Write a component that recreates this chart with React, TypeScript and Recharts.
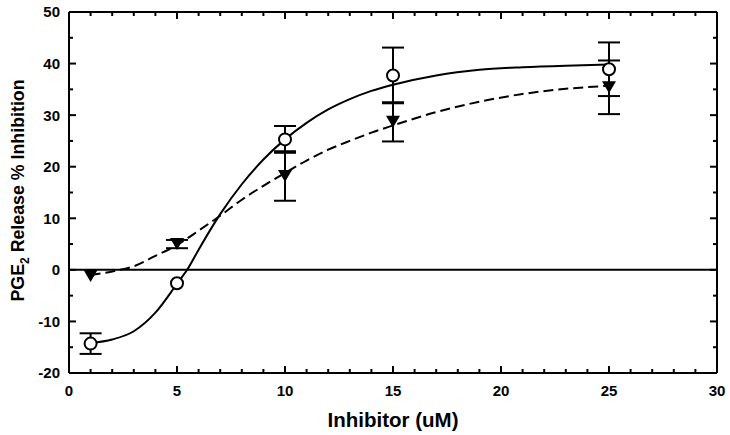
import React from 'react';
import {
    ComposedChart,
    ErrorBar,
    Line,
    ReferenceLine,
    Scatter,
    XAxis,
    YAxis
} from 'recharts';

// tick values
const xTicks = [0, 1, 2, 3, 4, 5, 6, 7, 8, 9, 10, 11, 12, 13, 14, 15, 16, 17, 18, 19, 20, 21, 22, 23, 24, 25, 26, 27, 28, 29, 30];
const yTicks = [-20, -15, -10, -5, 0, 5, 10, 15, 20, 25, 30, 35, 40, 45, 50];

// measured points (inhibitor concentration, uM); 0 = error hidden behind the marker
const doseX = [1, 5, 10, 15, 25];
const circleY = [-14.3, -2.6, 25.3, 37.7, 38.9];
const circleErr = [2.0, 0, 2.6, 5.4, 5.2];
const triangleY = [-1.2, 5.0, 18.2, 28.7, 35.4];
const triangleErr = [0, 0.8, 4.8, 3.8, 5.2];

// fitted curves
const solidFitX = [1, 2, 3, 4, 5, 5.5, 6, 7, 8, 9, 10, 11, 12, 13, 14, 15, 17, 19, 21, 23, 25];
const solidFitY = [-14.2, -13.5, -11.9, -8.3, -2.7, 0.2, 3.9, 10.8, 16.6, 21.4, 25.3, 28.5, 31.1, 33.1, 34.7, 35.9, 37.7, 38.8, 39.3, 39.6, 39.8];
const dashedFitX = [1, 2, 3, 4, 5, 6, 7, 8, 9, 10, 11, 12, 13, 14, 15, 17, 19, 21, 23, 25];
const dashedFitY = [-1.0, -0.3, 0.7, 2.7, 4.8, 7.6, 10.5, 13.6, 16.3, 18.8, 21.2, 23.3, 25.0, 26.6, 28.0, 30.6, 32.6, 34.1, 35.1, 35.7];

const circles = doseX.map((x, i) => ({ x, y: circleY[i], err: circleErr[i] }));
const triangles = doseX.map((x, i) => ({ x, y: triangleY[i], err: triangleErr[i] }));
const solidFit = solidFitX.map((x, i) => ({ x, y: solidFitY[i] }));
const dashedFit = dashedFitX.map((x, i) => ({ x, y: dashedFitY[i] }));

const FONT = '"Liberation Sans", Arial, sans-serif';

const OpenCircle = (props: any) => (
    <circle cx={props.cx} cy={props.cy} r={6} fill="#fff" stroke="#000" strokeWidth={2} />
);

const DownTriangle = (props: any) => {
    const { cx, cy } = props;
    return <path d={`M${cx - 7},${cy - 6}L${cx + 7},${cy - 6}L${cx},${cy + 6}Z`} fill="#000" />;
};

const BottomTick = ({ x, y, payload }: any) => {
    const major = payload.value % 5 === 0;
    return (
        <g>
            <line x1={x} x2={x} y1={y} y2={y - (major ? 7 : 4)} stroke="#000" strokeWidth={2} />
            {major && (
                <text x={x} y={y + 22.5} textAnchor="middle" fontFamily={FONT} fontWeight="bold" fontSize={15} fill="#000">
                    {payload.value}
                </text>
            )}
        </g>
    );
};

const TopTick = ({ x, y, payload }: any) => {
    const major = payload.value % 5 === 0;
    return <line x1={x} x2={x} y1={y} y2={y + (major ? 7 : 4)} stroke="#000" strokeWidth={2} />;
};

const LeftTick = ({ x, y, payload }: any) => {
    const major = payload.value % 10 === 0;
    return (
        <g>
            <line x1={x} x2={x + (major ? 7 : 4)} y1={y} y2={y} stroke="#000" strokeWidth={2} />
            {major && (
                <text x={x - 9} y={y} dy="0.36em" textAnchor="end" fontFamily={FONT} fontWeight="bold" fontSize={15} fill="#000">
                    {payload.value}
                </text>
            )}
        </g>
    );
};

const RightTick = ({ x, y, payload }: any) => {
    const major = payload.value % 10 === 0;
    return <line x1={x} x2={x - (major ? 7 : 4)} y1={y} y2={y} stroke="#000" strokeWidth={2} />;
};

const XTitle = (props: any) => {
    const { x, y, width } = props.viewBox;
    return (
        <text x={x + width / 2} y={y + 54} textAnchor="middle" fontFamily={FONT} fontWeight="bold" fontSize={20.5} fill="#000">
            Inhibitor (uM)
        </text>
    );
};

const YTitle = (props: any) => {
    const { y, height } = props.viewBox;
    const cx = 17;
    const cy = y + height / 2 - 2;
    return (
        <text
            x={cx}
            y={cy + 7}
            transform={`rotate(-90, ${cx}, ${cy})`}
            textAnchor="middle"
            fontFamily={FONT}
            fontWeight="bold"
            fontSize={17.8}
            fill="#000"
        >
            PGE
            <tspan fontSize={12} dy={4.5}>2</tspan>
            <tspan dy={-4.5}> Release % Inhibition</tspan>
        </text>
    );
};

export default function App() {
    return (
        <div style={{ position: 'absolute', left: 0, top: 0, background: '#fff' }}>
            <ComposedChart width={730} height={435} margin={{ top: 11, right: 12, bottom: 0, left: 0 }}>
                <XAxis
                    dataKey="x"
                    type="number"
                    domain={[0, 30]}
                    allowDataOverflow
                    ticks={xTicks}
                    interval={0}
                    height={62}
                    tickSize={0}
                    tickMargin={0}
                    tickLine={false}
                    tick={<BottomTick />}
                    axisLine={{ stroke: '#000', strokeWidth: 2 }}
                    label={XTitle}
                />
                <XAxis
                    xAxisId="top"
                    dataKey="x"
                    orientation="top"
                    type="number"
                    domain={[0, 30]}
                    allowDataOverflow
                    ticks={xTicks}
                    interval={0}
                    height={1}
                    tickSize={0}
                    tickMargin={0}
                    tickLine={false}
                    tick={<TopTick />}
                    axisLine={{ stroke: '#000', strokeWidth: 2 }}
                />
                <YAxis
                    dataKey="y"
                    type="number"
                    domain={[-20, 50]}
                    allowDataOverflow
                    ticks={yTicks}
                    interval={0}
                    width={69}
                    tickSize={0}
                    tickMargin={0}
                    tickLine={false}
                    tick={<LeftTick />}
                    axisLine={{ stroke: '#000', strokeWidth: 2 }}
                    label={YTitle}
                />
                <YAxis
                    yAxisId="right"
                    dataKey="y"
                    orientation="right"
                    type="number"
                    domain={[-20, 50]}
                    allowDataOverflow
                    ticks={yTicks}
                    interval={0}
                    width={1}
                    tickSize={0}
                    tickMargin={0}
                    tickLine={false}
                    tick={<RightTick />}
                    axisLine={{ stroke: '#000', strokeWidth: 2 }}
                />
                <ReferenceLine y={0} stroke="#000" strokeWidth={2} />
                <Line
                    data={solidFit}
                    dataKey="y"
                    type="monotone"
                    stroke="#000"
                    strokeWidth={2}
                    dot={false}
                    activeDot={false}
                    isAnimationActive={false}
                />
                {/* triangle series is bound to the top/right axes (same domains) so those axes get drawn */}
                <Line
                    data={dashedFit}
                    dataKey="y"
                    xAxisId="top"
                    yAxisId="right"
                    type="monotone"
                    stroke="#000"
                    strokeWidth={2}
                    strokeDasharray="10 5"
                    dot={false}
                    activeDot={false}
                    isAnimationActive={false}
                />
                <Scatter data={circles} dataKey="y" shape={OpenCircle} isAnimationActive={false}>
                    <ErrorBar dataKey="err" direction="y" width={11} stroke="#000" strokeWidth={2} />
                </Scatter>
                <Scatter
                    data={triangles}
                    dataKey="y"
                    xAxisId="top"
                    yAxisId="right"
                    shape={DownTriangle}
                    isAnimationActive={false}
                >
                    <ErrorBar dataKey="err" direction="y" width={11} stroke="#000" strokeWidth={2} />
                </Scatter>
            </ComposedChart>
        </div>
    );
}
